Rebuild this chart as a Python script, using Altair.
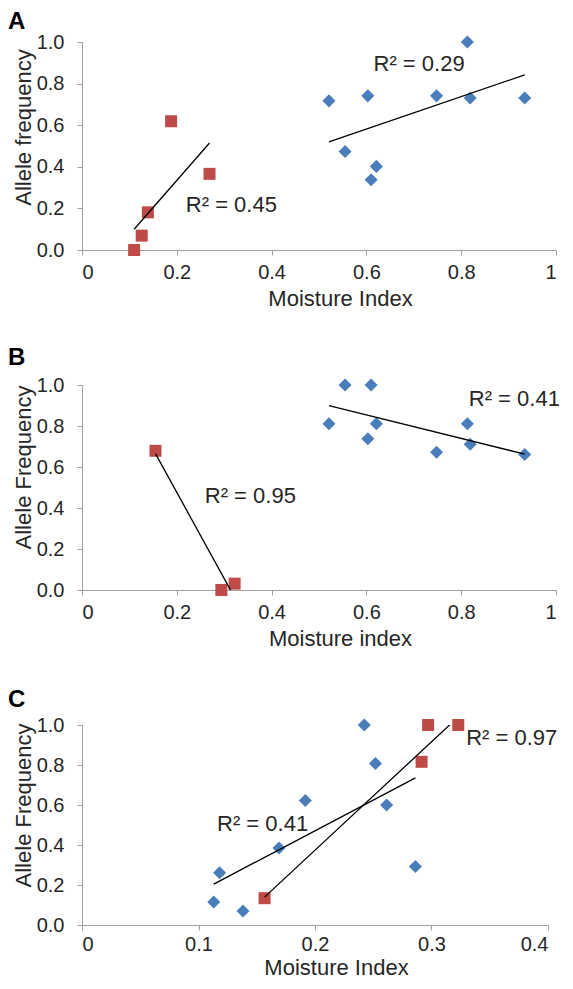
import altair as alt
import pandas as pd

FONT = "Liberation Sans"
BLUE = "#4A7EBB"
RED = "#BE4B48"
TXT = "#262626"
AXC = "#A0A0A0"

# ---------------- Panel A ----------------
a_blue_x = [0.521, 0.555, 0.603, 0.610, 0.621, 0.748, 0.813, 0.819, 0.934]
a_blue_y = [0.717, 0.474, 0.741, 0.338, 0.402, 0.741, 1.000, 0.731, 0.731]
a_red_x = [0.110, 0.126, 0.139, 0.188, 0.269]
a_red_y = [0.000, 0.069, 0.181, 0.619, 0.366]
a_r2_text = ["R² = 0.29", "R² = 0.45"]
a_r2_x = [0.615, 0.219]
a_r2_y = [0.861, 0.181]

# ---------------- Panel B ----------------
b_blue_x = [0.521, 0.555, 0.603, 0.610, 0.621, 0.748, 0.813, 0.819, 0.934]
b_blue_y = [0.811, 1.000, 0.738, 1.000, 0.811, 0.672, 0.811, 0.711, 0.661]
b_red_x = [0.155, 0.294, 0.322]
b_red_y = [0.679, 0.000, 0.031]
b_r2_text = ["R² = 0.41", "R² = 0.95"]
b_r2_x = [0.816, 0.259]
b_r2_y = [0.897, 0.426]

# ---------------- Panel C ----------------
c_blue_x = [0.1131, 0.1181, 0.1382, 0.1691, 0.1917, 0.2423, 0.2519, 0.2615, 0.2862]
c_blue_y = [0.115, 0.261, 0.070, 0.385, 0.623, 1.000, 0.807, 0.600, 0.293]
c_red_x = [0.1567, 0.2915, 0.2971, 0.3230]
c_red_y = [0.134, 0.816, 1.000, 1.000]
c_r2_text = ["R² = 0.97", "R² = 0.41"]
c_r2_x = [0.3298, 0.1159]
c_r2_y = [0.902, 0.470]

y_ticks = [0.0, 0.2, 0.4, 0.6, 0.8, 1.0]
x_ticks_ab = [0.0, 0.2, 0.4, 0.6, 0.8, 1.0]
x_ticks_c = [0.0, 0.1, 0.2, 0.3, 0.4]


def panel(letter, bx, by, rx, ry, tt, tx, ty, xmax, xticks, w, h,
          ytitle, xtitle, ytitle_y, xtitle_x, xtitle_y, letter_y, label_pad):
    pts = pd.DataFrame({
        "x": bx + rx,
        "y": by + ry,
        "grp": ["blue"] * len(bx) + ["red"] * len(rx),
    })
    lab_expr = ("datum.value == 0 ? '0' : datum.value == 1 ? '1' : "
                "format(datum.value, '.1f')")
    xenc = alt.X("x:Q",
                 scale=alt.Scale(domain=[0, xmax], nice=False, zero=False),
                 axis=alt.Axis(values=xticks, labelExpr=lab_expr,
                               labelPadding=label_pad,
                               title=xtitle, titleX=xtitle_x, titleY=xtitle_y,
                               titleBaseline="alphabetic"))
    yenc = alt.Y("y:Q",
                 scale=alt.Scale(domain=[0, 1], nice=False, zero=False),
                 axis=alt.Axis(values=y_ticks, format=".1f",
                               title=ytitle, titleX=-52, titleY=ytitle_y,
                               titleAngle=270, titleBaseline="alphabetic"))
    base = alt.Chart(pts).encode(x=xenc, y=yenc)
    blue = base.transform_filter("datum.grp == 'blue'").mark_point(
        shape="diamond", filled=True, size=170, color=BLUE, opacity=1)
    red = base.transform_filter("datum.grp == 'red'").mark_point(
        shape="square", filled=True, size=144, color=RED, opacity=1)
    trend = base.transform_regression("x", "y", groupby=["grp"]).mark_line(
        color="black", strokeWidth=1.3, clip=True).encode(detail="grp:N")
    ann = alt.Chart(pd.DataFrame({"x": tx, "y": ty, "t": tt})).mark_text(
        align="left", baseline="alphabetic", fontSize=22, color=TXT,
        font=FONT).encode(x=xenc, y=yenc, text="t:N")
    lab = alt.Chart(pd.DataFrame({"t": [letter]})).mark_text(
        align="left", baseline="alphabetic", fontSize=24, fontWeight="bold",
        color="black", font=FONT).encode(
        x=alt.value(-74), y=alt.value(letter_y), text="t:N")
    return alt.layer(blue, red, trend, ann, lab).properties(width=w, height=h)


pa = panel("A", a_blue_x, a_blue_y, a_red_x, a_red_y, a_r2_text, a_r2_x, a_r2_y,
           1.0, x_ticks_ab, 474, 208, "Allele frequency", "Moisture Index",
           85, 258, 55, -13, 7)
pb = panel("B", b_blue_x, b_blue_y, b_red_x, b_red_y, b_r2_text, b_r2_x, b_r2_y,
           1.0, x_ticks_ab, 474, 205, "Allele Frequency", "Moisture index",
           82, 258, 55, -20, 7)
pc = panel("C", c_blue_x, c_blue_y, c_red_x, c_red_y, c_r2_text, c_r2_x, c_r2_y,
           0.4, x_ticks_c, 466, 200, "Allele Frequency", "Moisture Index",
           80, 254, 49, -18, 4)

chart = alt.vconcat(pa, pb, pc, spacing=135, bounds="flush").resolve_scale(
    x="independent", y="independent"
).properties(
    padding={"left": 0, "top": 2, "right": 0, "bottom": 0}
).configure(font=FONT).configure_axis(
    domainColor=AXC, tickColor=AXC, labelColor=TXT, titleColor=TXT,
    labelFontSize=20, titleFontSize=22, titleFontWeight="normal",
    labelFont=FONT, titleFont=FONT, grid=False, tickSize=5,
).configure_axisY(labelPadding=13).configure_view(
    stroke=None
)

chart.save("out.html", embed_options={"renderer": "svg", "actions": False})
